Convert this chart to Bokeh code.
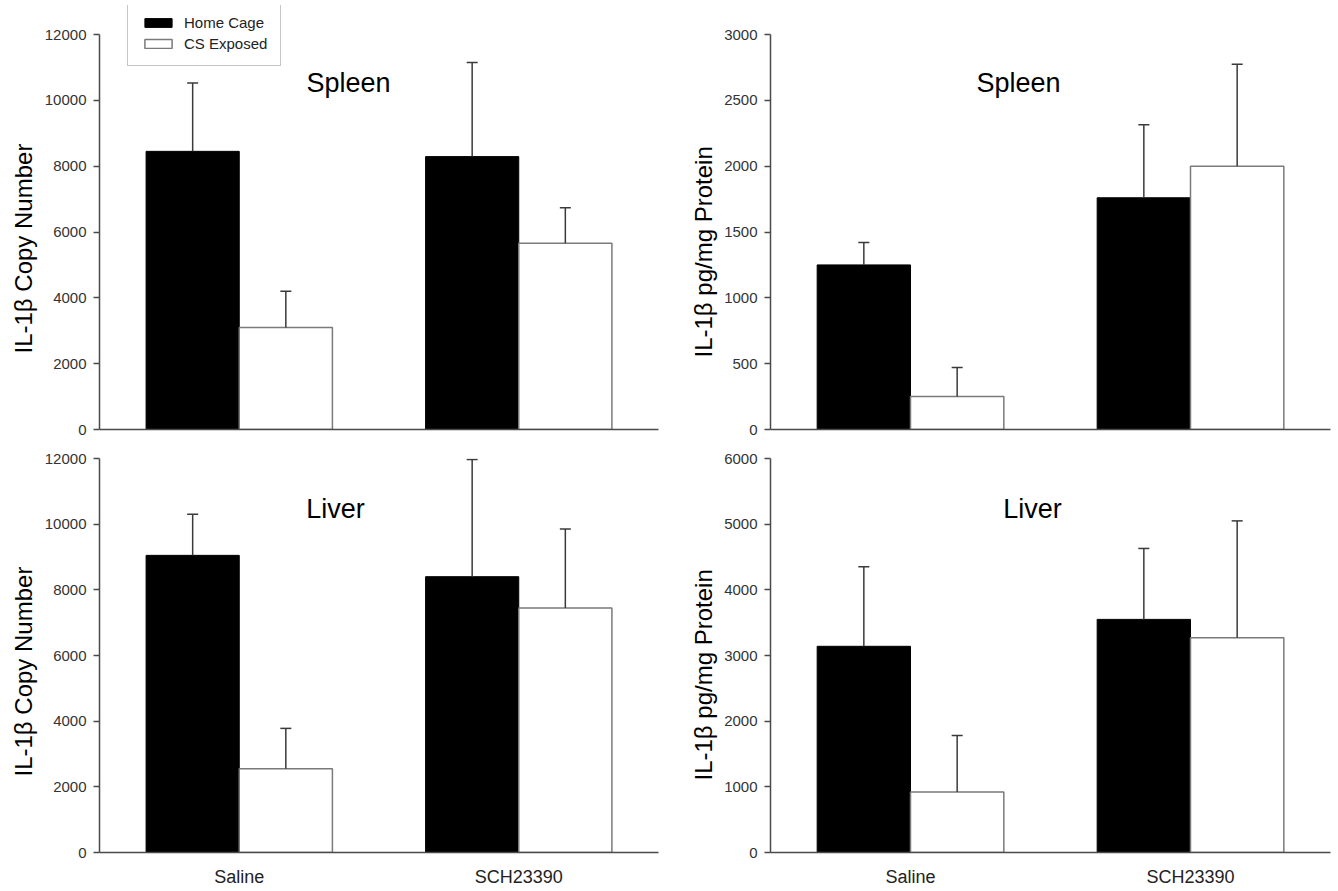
from bokeh.plotting import figure
from bokeh.models import (FactorRange, Range1d, ColumnDataSource, Whisker, TeeHead,
                          FixedTicker, Legend, LegendItem, Label, Title)
from bokeh.transform import dodge
from bokeh.layouts import column, row
from bokeh.embed import file_html
from bokeh.resources import INLINE

# ---------------- data ----------------
groups = ["Saline", "SCH23390"]
series_names = ["Home Cage", "CS Exposed"]

# Spleen, IL-1b copy number
spleen_copy_home = [8450, 8290]
spleen_copy_home_err = [2080, 2860]
spleen_copy_cs = [3100, 5660]
spleen_copy_cs_err = [1100, 1080]

# Spleen, IL-1b pg/mg protein
spleen_prot_home = [1250, 1760]
spleen_prot_home_err = [170, 555]
spleen_prot_cs = [250, 2000]
spleen_prot_cs_err = [220, 775]

# Liver, IL-1b copy number
liver_copy_home = [9050, 8400]
liver_copy_home_err = [1250, 3570]
liver_copy_cs = [2550, 7450]
liver_copy_cs_err = [1230, 2400]

# Liver, IL-1b pg/mg protein
liver_prot_home = [3140, 3550]
liver_prot_home_err = [1210, 1080]
liver_prot_cs = [920, 3270]
liver_prot_cs_err = [860, 1780]

yticks_copy = [0, 2000, 4000, 6000, 8000, 10000, 12000]
yticks_spleen_prot = [0, 500, 1000, 1500, 2000, 2500, 3000]
yticks_liver_prot = [0, 1000, 2000, 3000, 4000, 5000, 6000]

label_copy = "IL-1\u03b2 Copy Number"
label_prot = "IL-1\u03b2 pg/mg Protein"

FONT = "Liberation Sans"
AXIS_COLOR = "#4a4a4a"
ERR_COLOR = "#3a3a3a"
OUTLINE_GRAY = "#7a7a7a"


def make_panel(home, home_err, cs, cs_err, yticks, ylabel, title, title_x, title_y,
               ylabel_offset, left_col, bottom_row, legend=False):
    ymax = yticks[-1]
    axis_px = 394 if bottom_row else 395
    border_top = 15 if bottom_row else 34
    # top row: head room above the top tick for the legend; the axis line stops at ymax
    extra_px = 0 if bottom_row else 29
    p = figure(x_range=FactorRange(factors=groups, range_padding=0),
               y_range=Range1d(0, ymax * (axis_px + extra_px) / axis_px),
               frame_width=559 if left_col else 560,
               frame_height=axis_px + extra_px,
               min_border_left=99 if left_col else 90,
               min_border_right=22 if left_col else 8,
               min_border_top=border_top - extra_px,
               min_border_bottom=36 if bottom_row else 14,
               output_backend="svg", toolbar_location=None, tools="")
    p.outline_line_color = None
    p.grid.visible = False
    p.background_fill_color = "white"
    p.border_fill_color = "white"

    src = ColumnDataSource(dict(
        group=groups, home=home, cs=cs,
        home_top=[v + e for v, e in zip(home, home_err)],
        cs_top=[v + e for v, e in zip(cs, cs_err)],
    ))

    r_home = p.vbar(x=dodge("group", -1 / 6, range=p.x_range), top="home", width=1 / 3,
                    source=src, fill_color="black", line_color="black", line_width=1)
    r_cs = p.vbar(x=dodge("group", 1 / 6, range=p.x_range), top="cs", width=1 / 3,
                  source=src, fill_color="white", line_color=OUTLINE_GRAY, line_width=1.5)

    for off, low, up in [(-1 / 6, "home", "home_top"), (1 / 6, "cs", "cs_top")]:
        w = Whisker(base=dodge("group", off, range=p.x_range), lower=low, upper=up,
                    source=src, dimension="height", line_color=ERR_COLOR, line_width=1.5,
                    lower_head=None,
                    upper_head=TeeHead(size=11, line_color=ERR_COLOR, line_width=1.5),
                    level="overlay")
        p.add_layout(w)

    # y axis
    ya = p.yaxis[0]
    ya.ticker = FixedTicker(ticks=yticks)
    ya.bounds = (0, ymax)
    ya.major_tick_out = 6
    ya.major_tick_in = 0
    ya.minor_tick_out = 0
    ya.minor_tick_in = 0
    ya.axis_line_color = AXIS_COLOR
    ya.axis_line_width = 1.5
    ya.major_tick_line_color = AXIS_COLOR
    ya.major_tick_line_width = 1.5
    ya.major_label_text_font = FONT
    ya.major_label_text_font_size = "15px"
    ya.major_label_text_color = "#333333"
    ya.major_label_standoff = 7

    # x axis
    xa = p.xaxis[0]
    xa.major_tick_out = 0
    xa.major_tick_in = 0
    xa.minor_tick_out = 0
    xa.axis_line_color = AXIS_COLOR
    xa.axis_line_width = 1.5
    xa.major_label_text_font = FONT
    xa.major_label_text_color = "#222222"
    if bottom_row:
        xa.major_label_text_font_size = "18px"
        xa.major_label_standoff = 14
    else:
        xa.ticker = FixedTicker(ticks=[])
        xa.major_label_standoff = 0

    p.add_layout(Label(x=title_x, y=title_y, x_units="screen", y_units="screen",
                       text=title, text_align="center", text_baseline="middle",
                       text_font=FONT, text_font_size="27px", text_color="black"))

    p.add_layout(Title(text=ylabel, align="left", offset=ylabel_offset,
                       text_font=FONT, text_font_size="24px", text_font_style="normal",
                       text_color="black", standoff=10), "left")

    if legend:
        lg = Legend(items=[LegendItem(label=series_names[0], renderers=[r_home]),
                           LegendItem(label=series_names[1], renderers=[r_cs])],
                    location=(28, 363), orientation="vertical",
                    glyph_width=34, glyph_height=11, label_height=15, label_width=80,
                    label_standoff=9, spacing=4, padding=13, margin=0,
                    border_line_color="#8c8c8c", border_line_width=1.5,
                    label_text_font=FONT, label_text_font_size="15px",
                    label_text_color="#222222",
                    background_fill_color="white", background_fill_alpha=1.0)
        p.add_layout(lg)
    return p


p_tl = make_panel(spleen_copy_home, spleen_copy_home_err, spleen_copy_cs, spleen_copy_cs_err,
                  yticks_copy, label_copy, "Spleen", 249, 347, 76,
                  left_col=True, bottom_row=False, legend=True)
p_tr = make_panel(spleen_prot_home, spleen_prot_home_err, spleen_prot_cs, spleen_prot_cs_err,
                  yticks_spleen_prot, label_prot, "Spleen", 248, 347, 72,
                  left_col=False, bottom_row=False)
p_bl = make_panel(liver_copy_home, liver_copy_home_err, liver_copy_cs, liver_copy_cs_err,
                  yticks_copy, label_copy, "Liver", 236, 344, 76,
                  left_col=True, bottom_row=True)
p_br = make_panel(liver_prot_home, liver_prot_home_err, liver_prot_cs, liver_prot_cs_err,
                  yticks_liver_prot, label_prot, "Liver", 262, 344, 72,
                  left_col=False, bottom_row=True)

layout = column(row(p_tl, p_tr), row(p_bl, p_br))

open("out.html", "w").write(file_html(layout, INLINE))
